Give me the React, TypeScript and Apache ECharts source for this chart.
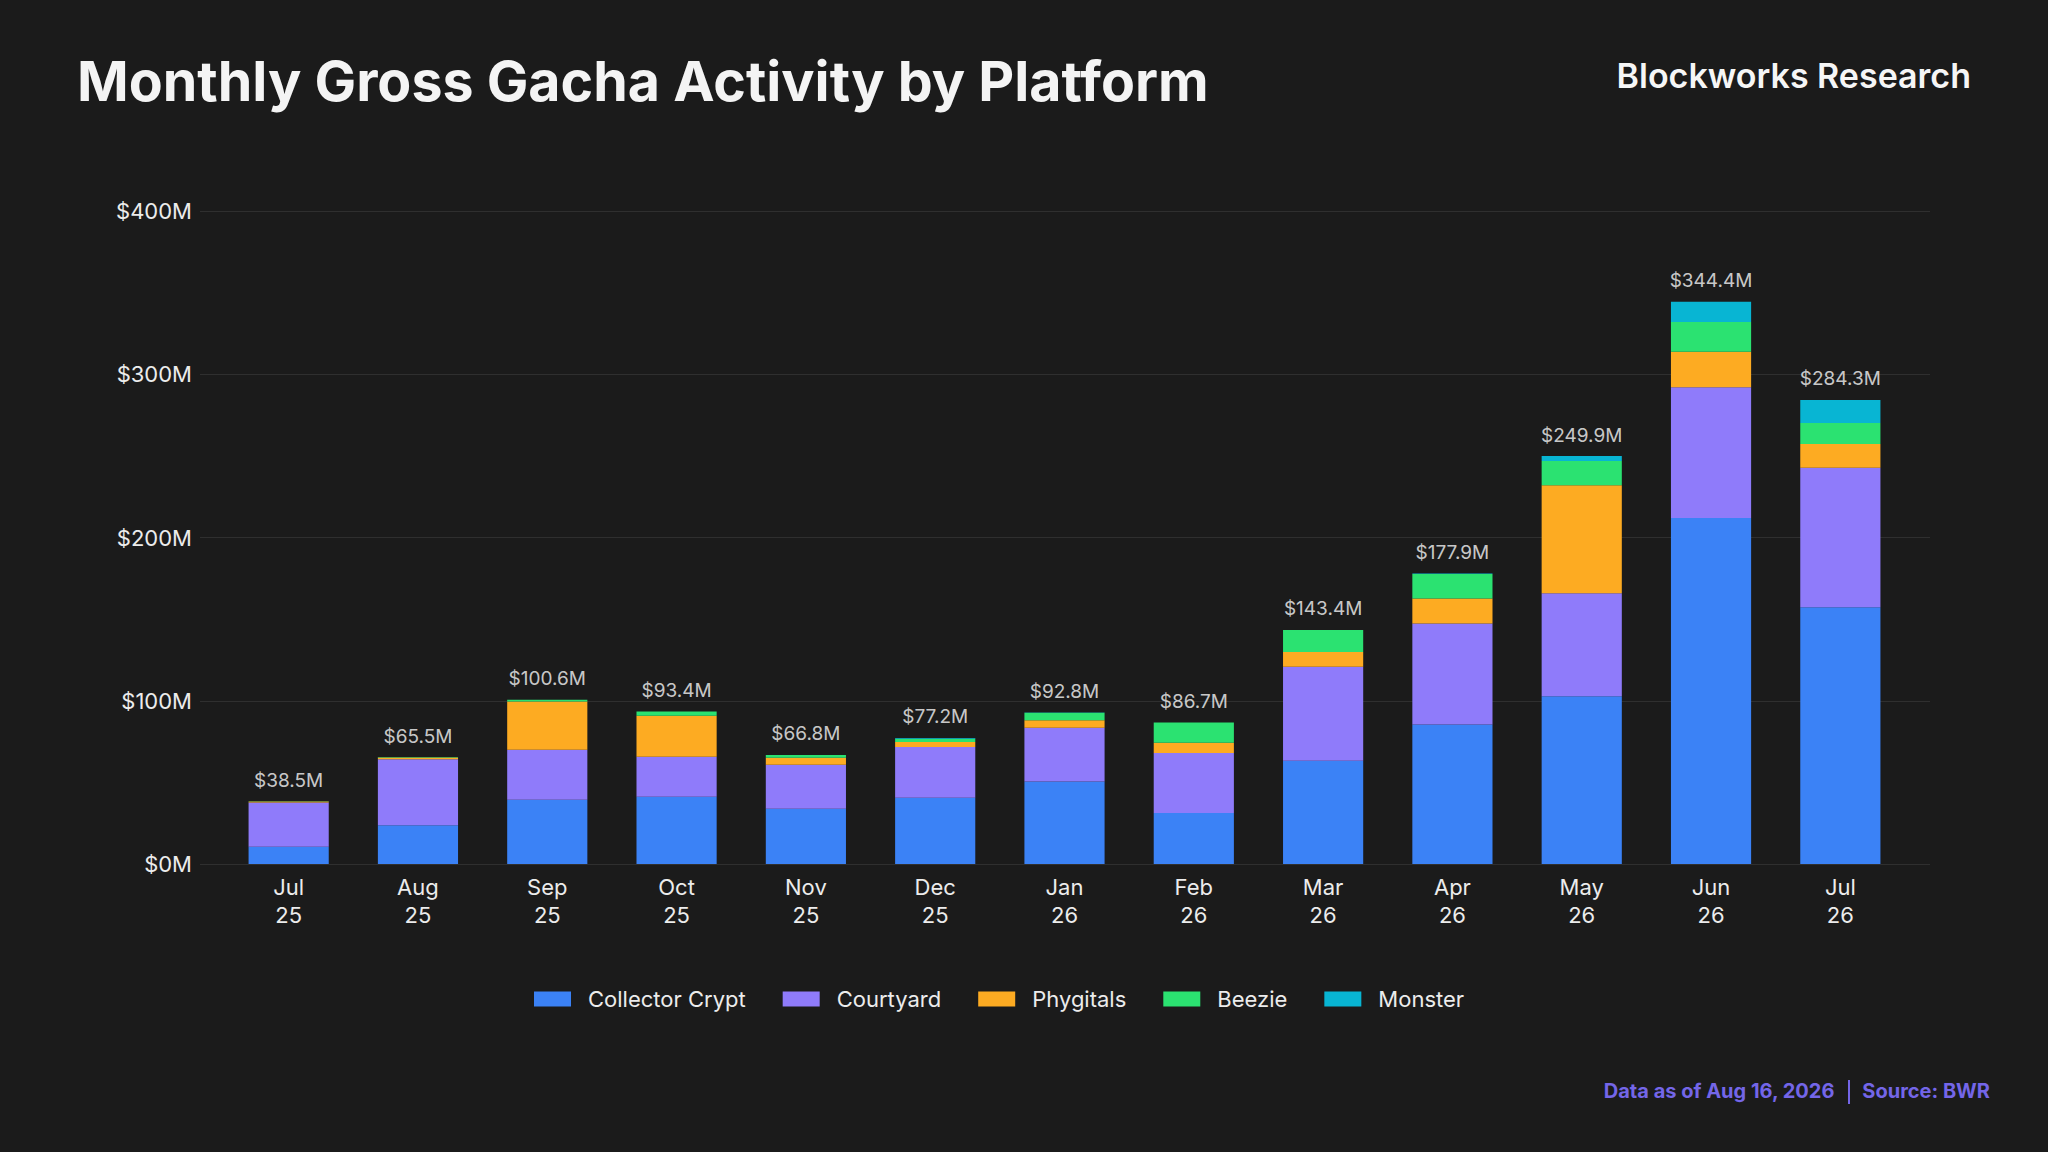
import React, { useEffect, useRef } from "react";
import * as echarts from "echarts";

const months = ["Jul\n25", "Aug\n25", "Sep\n25", "Oct\n25", "Nov\n25", "Dec\n25", "Jan\n26", "Feb\n26", "Mar\n26", "Apr\n26", "May\n26", "Jun\n26", "Jul\n26"];

// $M per month
const collectorCrypt = [10.6, 23.7, 39.4, 41.2, 33.9, 40.6, 50.5, 31.3, 63.3, 85.4, 102.7, 211.9, 157.3];
const courtyard = [27.0, 40.4, 30.6, 24.5, 26.9, 31.1, 33.0, 36.7, 57.6, 61.9, 63.1, 80.1, 85.4];
const phygitals = [0.7, 1.2, 29.6, 25.1, 4.3, 3.0, 4.6, 6.3, 9.0, 15.3, 66.2, 21.8, 14.6];
const beezie = [0.2, 0.2, 1.0, 2.6, 1.6, 2.0, 4.6, 12.4, 13.5, 15.1, 14.8, 18.2, 12.8];
const monster = [0, 0, 0, 0, 0.1, 0.5, 0.1, 0, 0, 0.2, 3.1, 12.4, 14.2];
const totals = [38.5, 65.5, 100.6, 93.4, 66.8, 77.2, 92.8, 86.7, 143.4, 177.9, 249.9, 344.4, 284.3];

const yTicks = [0, 100, 200, 300, 400];

const seriesDefs = [
  { name: "Collector Crypt", data: collectorCrypt, color: "#3b82f6" },
  { name: "Courtyard", data: courtyard, color: "#8f7bfa" },
  { name: "Phygitals", data: phygitals, color: "#fdab22" },
  { name: "Beezie", data: beezie, color: "#2be271" },
  { name: "Monster", data: monster, color: "#08b5d3" },
];

const FONT = "Inter";

export default function App() {
  const chartRef = useRef<HTMLDivElement>(null);

  useEffect(() => {
    document.body.style.margin = "0";
    if (!chartRef.current) return;
    const chart = echarts.init(chartRef.current, null, { renderer: "svg" });

    const option = {
      animation: false,
      backgroundColor: "#1b1b1b",
      textStyle: { fontFamily: FONT },
      graphic: [
        {
          type: "text",
          left: 77,
          top: 52,
          style: { text: "Monthly Gross Gacha Activity by Platform", fill: "#f4f4f4", font: `700 55.5px ${FONT}` },
        },
        {
          type: "text",
          right: 77,
          top: 58,
          style: { text: "Blockworks Research", fill: "#f6f6f6", font: `600 34px ${FONT}`, textAlign: "right" },
        },
        {
          type: "text",
          right: 58,
          top: 1081,
          style: { text: "Source: BWR", fill: "#7466e8", font: `700 20px ${FONT}` },
        },
        {
          type: "rect",
          left: 1848,
          top: 1080,
          shape: { width: 2, height: 24 },
          style: { fill: "#7466e8" },
        },
        {
          type: "text",
          right: 213,
          top: 1081,
          style: { text: "Data as of Aug 16, 2026", fill: "#7466e8", font: `700 20px ${FONT}` },
        },
      ],
      legend: {
        data: seriesDefs.map((s) => s.name),
        left: 534,
        top: 988,
        padding: 0,
        itemWidth: 37,
        itemHeight: 15,
        itemGap: 37,
        icon: "rect",
        textStyle: { color: "#ececec", fontSize: 22, fontFamily: FONT, padding: [0, 0, 0, 12] },
      },
      grid: [
        { left: 200, right: 118, top: 211, bottom: 288 },
        { left: 224, right: 143, top: 211, bottom: 288 },
      ],
      xAxis: [
        { type: "category", gridIndex: 0, data: months, show: false },
        {
          type: "category",
          gridIndex: 1,
          data: months,
          axisLine: { show: false },
          axisTick: { show: false },
          axisLabel: { color: "#ececec", fontSize: 22, lineHeight: 28, margin: 9, fontFamily: FONT },
        },
      ],
      yAxis: [
        {
          type: "value",
          gridIndex: 0,
          min: yTicks[0],
          max: yTicks[yTicks.length - 1],
          interval: 100,
          axisLine: { show: false },
          axisTick: { show: false },
          splitLine: { lineStyle: { color: "#2f2f2f", width: 1 } },
          axisLabel: { color: "#ececec", fontSize: 22, margin: 8, fontFamily: FONT, formatter: (v: number) => `$${v}M` },
        },
        {
          type: "value",
          gridIndex: 1,
          min: yTicks[0],
          max: yTicks[yTicks.length - 1],
          interval: 100,
          show: false,
          splitLine: { show: false },
        },
      ],
      series: [
        ...seriesDefs.map((s) => ({
          name: s.name,
          type: "bar",
          stack: "total",
          xAxisIndex: 1,
          yAxisIndex: 1,
          barWidth: "62%",
          data: s.data,
          itemStyle: { color: s.color },
        })),
        {
          name: "Total",
          type: "scatter",
          xAxisIndex: 1,
          yAxisIndex: 1,
          data: totals,
          symbolSize: 1,
          itemStyle: { color: "rgba(0,0,0,0)" },
          label: {
            show: true,
            position: "top",
            distance: 11,
            color: "#f8f8f8",
            fontSize: 19,
            fontFamily: FONT,
            formatter: (p: any) => `$${totals[p.dataIndex].toFixed(1)}M`,
          },
        },
      ],
    };

    chart.setOption(option);
    return () => chart.dispose();
  }, []);

  return <div ref={chartRef} style={{ width: 2048, height: 1152 }} />;
}
